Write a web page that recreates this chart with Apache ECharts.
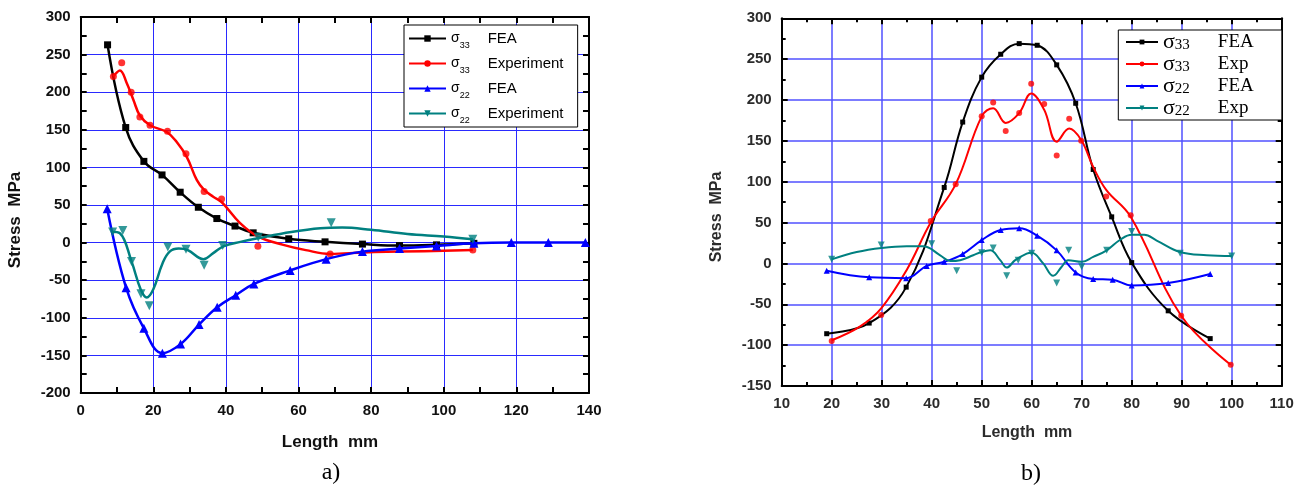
<!DOCTYPE html>
<html><head><meta charset="utf-8">
<script src="https://cdn.jsdelivr.net/npm/echarts@6/dist/echarts.min.js"></script>
<style>html,body{margin:0;padding:0;background:#fff}#c{width:1306px;height:491px}</style>
</head><body><div id="c"></div>
<script>
// ---------- Chart a) data ----------
const aXTicks = [0, 20, 40, 60, 80, 100, 120, 140];
const aYTicks = [-200, -150, -100, -50, 0, 50, 100, 150, 200, 250, 300];
const aLegend = [['33', 'FEA'], ['33', 'Experiment'], ['22', 'FEA'], ['22', 'Experiment']];
const aS33FEA = [[7.4,263],[12.4,153],[17.4,108],[22.4,90],[27.4,67],[32.4,47],[37.5,32],[42.5,22],[47.5,13],[57.3,5],[67.3,1],[77.6,-2],[87.8,-4],[98,-3],[108.3,-1]];
const aS33ExpPts = [[9,221],[11.3,239],[13.9,200],[16.3,167],[19.1,156],[23.9,148],[29,118],[34,68],[38.8,58],[48.8,-5],[68.7,-15],[108,-10]];
const aS33ExpFit = [[9,221],[10.8,229],[12.7,212],[14.5,190],[16.3,169],[19.1,156],[23.7,147],[26.4,134],[29.2,114],[32,83],[34,70],[36.5,61],[38.8,54],[43.9,26],[48.9,8],[55.8,-3],[62,-10],[68.7,-15],[78,-13],[88,-12],[108,-10]];
const aS22FEA = [[7.3,45],[12.5,-60],[17.4,-114],[22.5,-147],[27.5,-135],[32.6,-109],[37.6,-86],[42.7,-70],[47.7,-55],[57.7,-37],[67.6,-22],[77.6,-12],[87.8,-8],[98,-4.5],[108.3,-1],[118.6,0],[128.8,0],[139,0]];
const aS22ExpPts = [[8.8,14],[11.6,16],[14,-25],[16.6,-68],[18.9,-84],[24,-6],[29,-9],[34,-30],[39.1,-4],[48.9,7],[69,26.5],[108,4.4]];
const aS22ExpFit = [[8.5,14.5],[10.8,12.5],[14,-25],[16.5,-62],[18.2,-73],[20,-62],[22.5,-28],[24.5,-12],[27,-8],[29.5,-10],[33.8,-22],[36.5,-14],[39.3,-5],[44,1],[49,6],[58,14],[66,19],[72,20],[80,17],[90,11.5],[100,8],[108,4.4]];

// ---------- Chart b) data ----------
const bXTicks = [10, 20, 30, 40, 50, 60, 70, 80, 90, 100, 110];
const bYTicks = [-150, -100, -50, 0, 50, 100, 150, 200, 250, 300];
const bLegend = [['33', 'FEA'], ['33', 'Exp'], ['22', 'FEA'], ['22', 'Exp']];
const bS33FEA = [[19,-86],[27.5,-73],[34.9,-29],[42.5,93],[46.2,173],[50,228],[53.8,256],[57.5,269],[61.1,267],[65,243],[68.8,196],[72.3,115],[76,57],[80,1],[87.3,-58],[95.7,-92]];
const bS33ExpPts = [[20,-95],[29.9,-63],[39.8,52],[44.8,97],[50,180],[52.3,197],[54.8,162],[57.5,184],[59.9,220],[62.5,195],[65,132],[67.5,177],[69.9,150],[74.9,82],[79.8,59],[89.9,-64],[99.8,-124]];
const bS33ExpFit = [[20,-94],[25.7,-77],[29.9,-55],[35,-8],[39.8,50],[44.8,97],[50,180],[52.3,190],[54.8,172],[57.5,184],[59.9,208],[62.5,188],[65,149],[67.5,165],[69.9,151],[72.3,118],[74.9,90],[79.8,57],[89.9,-64],[99.8,-124]];
const bS22FEA = [[19,-9],[27.5,-17],[34.9,-18],[39,-3],[42.5,2],[46.2,11.5],[50,28.6],[53.8,41],[57.5,43],[61.1,34],[65,16],[68.8,-11],[72.3,-19],[76.2,-20],[80,-27],[87.3,-24],[95.7,-13]];
const bS22ExpPts = [[20,5],[29.9,22.5],[40,24],[45,-9],[50,13],[52.3,19],[55,-15],[57.3,4],[60,12.5],[65,-24],[67.4,16],[70,-4],[75,16],[80,39],[89.7,12.4],[100,9]];
const bS22ExpFit = [[20,5],[25,14],[30,19],[35,21],[38.3,21],[41.7,10],[43.7,3],[45.7,4],[48.3,10],[50,14],[51.7,16],[53.7,4],[55,-5],[56.7,4],[59,12],[60,13],[62.3,0],[64.3,-15],[66,-4],[67.3,4],[70,2],[72.3,8],[75,16],[77.7,29],[80,35],[82.5,35],[85,28],[89.7,14],[95,10],[100,9]];

const COLORS = ['#000000', '#ff0000', '#0000ff', '#008080'];
const SYMBOLS = ['rect', 'circle', 'triangle', 'triangle'];
const ROT = [0, 0, 0, 180];

const chart = echarts.init(document.getElementById('c'), null, {renderer: 'canvas'});
const sans = 'Liberation Sans, Arial, sans-serif';
const serif = 'Liberation Serif, Times New Roman, serif';

function axisPair(grid, ticks, isX, labelColor, splitColor, splitWidth, minorLen) {
  const base = {
    gridIndex: grid, type: 'value',
    min: ticks[0], max: ticks[ticks.length - 1], interval: ticks[1] - ticks[0],
    axisLine: {show: true, onZero: false, lineStyle: {color: '#000', width: 2}},
    axisTick: {show: true, inside: true, length: 6, lineStyle: {color: '#000', width: 2}},
    minorTick: {show: true, splitNumber: 2, length: minorLen, lineStyle: {color: '#000', width: 2}},
    minorSplitLine: {show: false}
  };
  const main = Object.assign({}, base, {
    position: isX ? 'bottom' : 'left',
    axisLabel: {show: true, color: labelColor, fontFamily: sans, fontWeight: 'bold', fontSize: 15, margin: 10},
    splitLine: {show: true, lineStyle: {color: splitColor, width: splitWidth}}
  });
  const mirror = Object.assign({}, base, {
    position: isX ? 'top' : 'right',
    axisLabel: {show: false},
    splitLine: {show: false}
  });
  return [main, mirror];
}

function buildSeries(prefix, xi, yi, fea33, exp33pts, exp33fit, fea22, exp22pts, exp22fit, symSize, lw) {
  const s = [];
  const names = [prefix + '0', prefix + '1', prefix + '2', prefix + '3'];
  const line = (i, data, showSym) => ({
    name: names[i], type: 'line', xAxisIndex: xi, yAxisIndex: yi, data: data,
    smooth: 0.4, showSymbol: showSym, symbol: SYMBOLS[i], symbolRotate: ROT[i],
    symbolSize: symSize[i], color: COLORS[i],
    lineStyle: {color: COLORS[i], width: lw}, itemStyle: {color: COLORS[i]},
    emphasis: {disabled: true}, z: 2 + i
  });
  const pts = (i, data) => ({
    name: names[i] + 'p', type: 'scatter', xAxisIndex: xi, yAxisIndex: yi, data: data,
    symbol: SYMBOLS[i], symbolRotate: ROT[i], symbolSize: symSize[i],
    itemStyle: {color: COLORS[i]}, emphasis: {disabled: true}, z: 2 + i
  });
  s.push(line(0, fea33, true));
  s.push(line(1, exp33fit, false)); s.push(pts(1, exp33pts));
  s.push(line(2, fea22, true));
  s.push(line(3, exp22fit, false)); s.push(pts(3, exp22pts));
  return s;
}

const ax = axisPair(0, aXTicks, true, '#111', '#2a2aff', 1, 6);
const ay = axisPair(0, aYTicks, false, '#111', '#2a2aff', 1, 6);
const bx = axisPair(1, bXTicks, true, '#2b2b2b', '#5050ff', 1.5, 4);
const by = axisPair(1, bYTicks, false, '#2b2b2b', '#5050ff', 1.5, 4);

const option = {
  animation: false,
  backgroundColor: '#fff',
  grid: [
    {left: 80.7, top: 17, width: 508.3, height: 376},
    {left: 781.7, top: 18.3, width: 500, height: 367.7}
  ],
  xAxis: [ax[0], ax[1], bx[0], bx[1]],
  yAxis: [ay[0], ay[1], by[0], by[1]],
  legend: [
    {
      left: 404, top: 25, orient: 'vertical', itemWidth: 37, itemHeight: 8, itemGap: 5.5,
      padding: [6, 10, 1.5, 4], borderColor: '#000', borderWidth: 1, backgroundColor: '#fff',
      data: ['a0', 'a1', 'a2', 'a3'], selectedMode: false,
      formatter: n => { const k = +n.slice(1); return '{s|σ}{sub|' + aLegend[k][0] + '}{t|' + aLegend[k][1] + '}'; },
      textStyle: {
        color: '#000',
        rich: {
          s: {fontFamily: sans, fontSize: 14, lineHeight: 24, color: '#000'},
          sub: {fontFamily: sans, fontSize: 9, lineHeight: 12, verticalAlign: 'bottom', width: 28, color: '#000'},
          t: {fontFamily: sans, fontSize: 15, lineHeight: 24, width: 80, color: '#000'}
        }
      }
    },
    {
      left: 1118.3, top: 30, orient: 'vertical', itemWidth: 32, itemHeight: 6, itemGap: 0,
      padding: [1, 14, 1, 6.7], borderColor: '#000', borderWidth: 1, backgroundColor: '#fff',
      data: ['b0', 'b1', 'b2', 'b3'], selectedMode: false,
      formatter: n => { const k = +n.slice(1); return '{s|σ}{sub|' + bLegend[k][0] + '}{t|' + bLegend[k][1] + '}'; },
      textStyle: {
        color: '#000',
        rich: {
          s: {fontFamily: serif, fontSize: 22, lineHeight: 22, color: '#000'},
          sub: {fontFamily: serif, fontSize: 15, lineHeight: 6, verticalAlign: 'bottom', width: 43, color: '#000'},
          t: {fontFamily: serif, fontSize: 19, lineHeight: 22, width: 50, color: '#000'}
        }
      }
    }
  ],
  graphic: [
    {type: 'text', x: 15, y: 220, rotation: Math.PI / 2, style: {text: 'Stress  MPa', font: 'bold 17px ' + sans, fill: '#111', align: 'center', verticalAlign: 'middle'}},
    {type: 'text', x: 330, y: 442, style: {text: 'Length  mm', font: 'bold 17px ' + sans, fill: '#111', align: 'center', verticalAlign: 'middle'}},
    {type: 'text', x: 331, y: 473, style: {text: 'a)', font: '24px ' + serif, fill: '#000', align: 'center', verticalAlign: 'middle'}},
    {type: 'text', x: 716.7, y: 217, rotation: Math.PI / 2, style: {text: 'Stress  MPa', font: 'bold 16px ' + sans, fill: '#2b2b2b', align: 'center', verticalAlign: 'middle'}},
    {type: 'text', x: 1027, y: 433, style: {text: 'Length  mm', font: 'bold 16px ' + sans, fill: '#2b2b2b', align: 'center', verticalAlign: 'middle'}},
    {type: 'text', x: 1031, y: 474, style: {text: 'b)', font: '24px ' + serif, fill: '#000', align: 'center', verticalAlign: 'middle'}}
  ],
  series: [].concat(
    buildSeries('a', 0, 0, aS33FEA, aS33ExpPts, aS33ExpFit, aS22FEA, aS22ExpPts, aS22ExpFit, [7, 7, 9, 9], 2.5),
    buildSeries('b', 2, 2, bS33FEA, bS33ExpPts, bS33ExpFit, bS22FEA, bS22ExpPts, bS22ExpFit, [5, 6, 6, 7], 2)
  )
};
chart.setOption(option);
</script></body></html>
